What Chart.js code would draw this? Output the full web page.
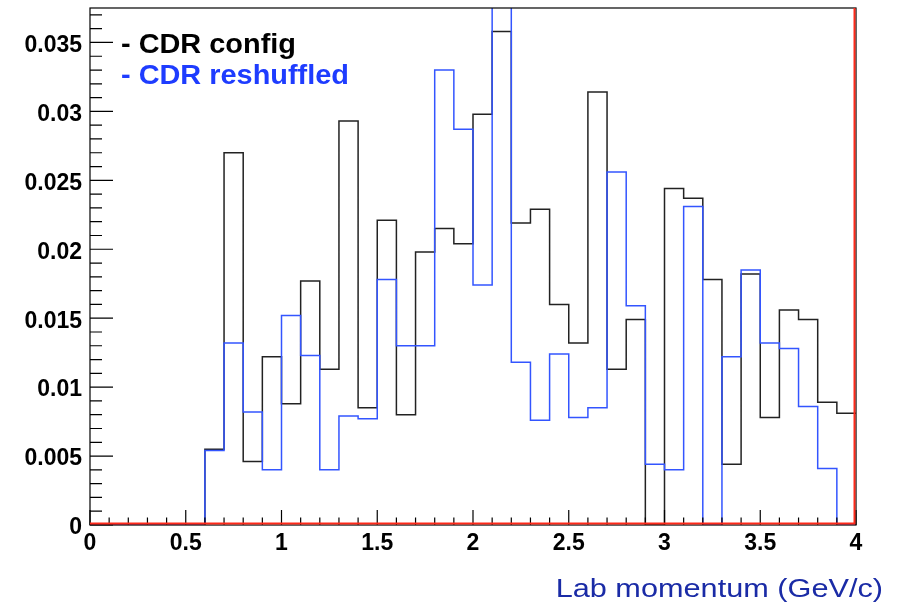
<!DOCTYPE html>
<html>
<head>
<meta charset="utf-8">
<script src="https://cdn.jsdelivr.net/npm/chart.js@4.4.1/dist/chart.umd.min.js"></script>
<style>
  body { margin: 0; background: #fff; }
  #wrap { width: 898px; height: 603px; }
</style>
</head>
<body>
<div id="wrap"><canvas id="grfc-momentum"></canvas></div>
<script>
// bin edges (GeV/c), 0.1 wide
const binEdges = [0, 0.1, 0.2, 0.3, 0.4, 0.5, 0.6, 0.7, 0.8, 0.9,
  1.0, 1.1, 1.2, 1.3, 1.4, 1.5, 1.6, 1.7, 1.8, 1.9,
  2.0, 2.1, 2.2, 2.3, 2.4, 2.5, 2.6, 2.7, 2.8, 2.9,
  3.0, 3.1, 3.2, 3.3, 3.4, 3.5, 3.6, 3.7, 3.8, 3.9, 4.0];

// bin contents
const cdrConfig = [0, 0, 0, 0, 0, 0, 0.0055, 0.0270, 0.0046, 0.0122,
  0.0088, 0.0177, 0.0113, 0.0293, 0.0085, 0.0221, 0.0080, 0.0198, 0.0215, 0.0204,
  0.0298, 0.0358, 0.0219, 0.0229, 0.0160, 0.0132, 0.0314, 0.0113, 0.0149, 0,
  0.0244, 0.0237, 0.0178, 0.0044, 0.0182, 0.0078, 0.0156, 0.0149, 0.0089, 0.0081];

const cdrReshuffled = [0, 0, 0, 0, 0, 0, 0.0054, 0.0132, 0.0082, 0.0040,
  0.0152, 0.0123, 0.0040, 0.0079, 0.0077, 0.0178, 0.0130, 0.0130, 0.0330, 0.0287,
  0.0174, 0.0385, 0.0118, 0.0076, 0.0124, 0.0078, 0.0085, 0.0256, 0.0159, 0.0044,
  0.0040, 0.0231, 0, 0.0122, 0.0185, 0.0132, 0.0128, 0.0086, 0.0041, 0];

const legendTexts = ['- CDR config', '- CDR reshuffled'];
const axisTitle = 'Lab momentum (GeV/c)';

// histogram outline: each bin's value starts at its low edge, last one held to the upper edge
function histPoints(vals) {
  let pts = vals.map((v, i) => ({ x: binEdges[i], y: v }));
  pts.push({ x: binEdges[vals.length], y: vals[vals.length - 1] });
  return pts;
}

const FONT = 'Liberation Sans, Arial, sans-serif';

// ROOT-like frame, inward ticks, red outline, legend and title
const rootFrame = {
  id: 'rootFrame',
  afterDatasetsDraw(chart) {
    const { ctx, chartArea: a, scales: { x, y } } = chart;
    ctx.save();
    ctx.strokeStyle = '#000';
    ctx.lineWidth = 1.2;
    ctx.strokeRect(a.left, a.top, a.right - a.left, a.bottom - a.top);

    ctx.beginPath();
    for (let k = 0; k <= 37; k++) {
      let py = y.getPixelForValue(k * 0.001);
      let len = (k % 5 == 0) ? 23 : 12;
      ctx.moveTo(a.left, py);
      ctx.lineTo(a.left + len, py);
    }
    for (let k = 0; k <= 40; k++) {
      let px = x.getPixelForValue(k * 0.1);
      let len = (k % 5 == 0) ? 15 : 7.5;
      ctx.moveTo(px, a.bottom);
      ctx.lineTo(px, a.bottom - len);
    }
    ctx.stroke();

    // red line along y=0 and x=4
    ctx.strokeStyle = '#ff2a1a';
    ctx.lineWidth = 2;
    ctx.beginPath();
    ctx.moveTo(x.getPixelForValue(0), y.getPixelForValue(0) - 1.5);
    ctx.lineTo(x.getPixelForValue(4) - 1.5, y.getPixelForValue(0) - 1.5);
    ctx.lineTo(x.getPixelForValue(4) - 1.5, a.top);
    ctx.stroke();

    // legend
    ctx.textBaseline = 'alphabetic';
    ctx.textAlign = 'left';
    ctx.font = 'bold 27px ' + FONT;
    let colors = ['#000', '#1e3cff'];
    let baselines = [53, 84];
    legendTexts.forEach((t, i) => {
      ctx.save();
      ctx.translate(121, baselines[i]);
      ctx.scale(1.07, 1);
      ctx.fillStyle = colors[i];
      ctx.fillText(t, 0, 0);
      ctx.restore();
    });

    // x title
    ctx.save();
    ctx.font = '26px ' + FONT;
    ctx.fillStyle = '#1a2ba6';
    ctx.textAlign = 'right';
    ctx.translate(883, 597);
    ctx.scale(1.18, 1);
    ctx.fillText(axisTitle, 0, 0);
    ctx.restore();

    ctx.restore();
  }
};

let ctx1 = document.getElementById('grfc-momentum');
new Chart(ctx1, {
  type: 'line',
  data: {
    datasets: [{
      label: legendTexts[0],
      data: histPoints(cdrConfig),
      stepped: 'before',
      borderColor: '#222',
      borderWidth: 1.5,
      pointRadius: 0,
      fill: false,
      order: 2
    }, {
      label: legendTexts[1],
      data: histPoints(cdrReshuffled),
      stepped: 'before',
      borderColor: '#3355ff',
      borderWidth: 1.5,
      pointRadius: 0,
      fill: false,
      order: 1
    }]
  },
  options: {
    responsive: true,
    maintainAspectRatio: false,
    animation: false,
    layout: { padding: { left: 0, right: 42, top: 8, bottom: 0 } },
    plugins: {
      legend: { display: false },
      tooltip: { enabled: false }
    },
    scales: {
      x: {
        type: 'linear',
        min: 0,
        max: 4,
        grid: { display: false, drawTicks: false },
        border: { display: false },
        ticks: {
          stepSize: 0.5,
          padding: 5,
          color: '#000',
          maxRotation: 0,
          font: { family: FONT, size: 23, weight: 'bold' },
          callback: (v) => String(parseFloat(v.toFixed(1)))
        },
        afterFit(scale) { scale.height = 78; }
      },
      y: {
        min: 0,
        max: 0.0375,
        grid: { display: false, drawTicks: false },
        border: { display: false },
        ticks: {
          stepSize: 0.005,
          includeBounds: false,
          padding: 8,
          labelOffset: 3,
          color: '#000',
          font: { family: FONT, size: 23, weight: 'bold' },
          callback: (v) => String(parseFloat(v.toFixed(3)))
        },
        afterFit(scale) {
          scale.width = 90;
          scale.paddingTop = 0;
        }
      }
    }
  },
  plugins: [rootFrame]
});
</script>
</body>
</html>
